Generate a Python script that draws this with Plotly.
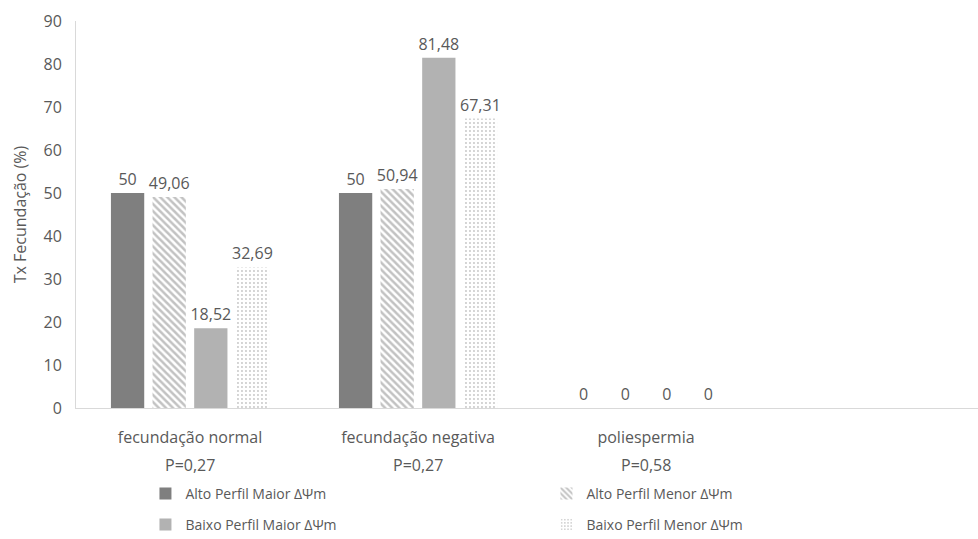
import plotly.graph_objects as go

categories = ["fecundação normal", "fecundação negativa", "poliespermia"]
p_values = ["P=0,27", "P=0,27", "P=0,58"]
series_names = [
    "Alto Perfil Maior ΔΨm",
    "Alto Perfil Menor ΔΨm",
    "Baixo Perfil Maior ΔΨm",
    "Baixo Perfil Menor ΔΨm",
]
alto_maior = [50, 50, 0]
alto_menor = [49.06, 50.94, 0]
baixo_maior = [18.52, 81.48, 0]
baixo_menor = [32.69, 67.31, 0]
y_ticks = [0, 10, 20, 30, 40, 50, 60, 70, 80, 90]

FONT = "Open Sans"
TXT = "#595959"
positions = list(range(len(categories)))


def fmt(v):
    s = f"{v:.2f}".rstrip("0").rstrip(".")
    return s.replace(".", ",")


styles = [
    dict(color="#7f7f7f"),
    dict(color="white", pattern=dict(shape="\\", fgcolor="#858585", bgcolor="white",
                                     size=5, solidity=0.5, fillmode="overlay")),
    dict(color="#b2b2b2"),
    dict(color="white", pattern=dict(shape=".", fgcolor="#8c8c8c", bgcolor="white",
                                     size=4, solidity=0.18, fillmode="overlay")),
]
all_series = [alto_maior, alto_menor, baixo_maior, baixo_menor]
# first two series in the upper legend row, last two in the lower row
legend_ids = ["legend", "legend", "legend2", "legend2"]

fig = go.Figure()
for name, vals, st, lg in zip(series_names, all_series, styles, legend_ids):
    fig.add_trace(go.Bar(
        name=name, x=positions, y=vals, legend=lg,
        marker=dict(line=dict(width=0), **st),
        text=[fmt(v) for v in vals], textposition="outside",
        constraintext="none",
        textfont=dict(family=FONT, size=16, color=TXT),
        cliponaxis=False,
    ))

for i, p in enumerate(p_values):
    fig.add_annotation(x=positions[i], xref="x", y=-0.147, yref="paper",
                       text=p, showarrow=False, yanchor="middle",
                       font=dict(family=FONT, size=16, color=TXT))

legend_common = dict(orientation="h", x=0.077, xanchor="left", yanchor="middle",
                     entrywidth=356, entrywidthmode="pixels", itemwidth=30,
                     bgcolor="rgba(0,0,0,0)",
                     font=dict(family=FONT, size=14, color=TXT))

fig.update_layout(
    width=978, height=539,
    margin=dict(l=76, r=0, t=21, b=131, autoexpand=False),
    paper_bgcolor="white", plot_bgcolor="white",
    barmode="group", bargap=0.27, bargroupgap=0.2,
    font=dict(family=FONT, size=16, color=TXT),
    showlegend=True,
    legend=dict(y=-0.222, **legend_common),
    legend2=dict(y=-0.302, **legend_common),
)
fig.update_xaxes(
    range=[-0.5, 3.456], tickmode="array", tickvals=positions, ticktext=categories,
    showline=True, linecolor="#d9d9d9", linewidth=1, showgrid=False,
    ticks="", ticklabelstandoff=15, zeroline=False,
    tickfont=dict(family=FONT, size=16, color=TXT),
)
fig.update_yaxes(
    range=[0, 90], tickvals=y_ticks, showline=True, linecolor="#d9d9d9", linewidth=1,
    showgrid=False, zeroline=False, ticks="", ticklabelstandoff=10,
    title=dict(text="Tx Fecundação (%)", font=dict(family=FONT, size=16, color=TXT), standoff=12),
    tickfont=dict(family=FONT, size=16, color=TXT),
)

fig.write_html("out.html")
